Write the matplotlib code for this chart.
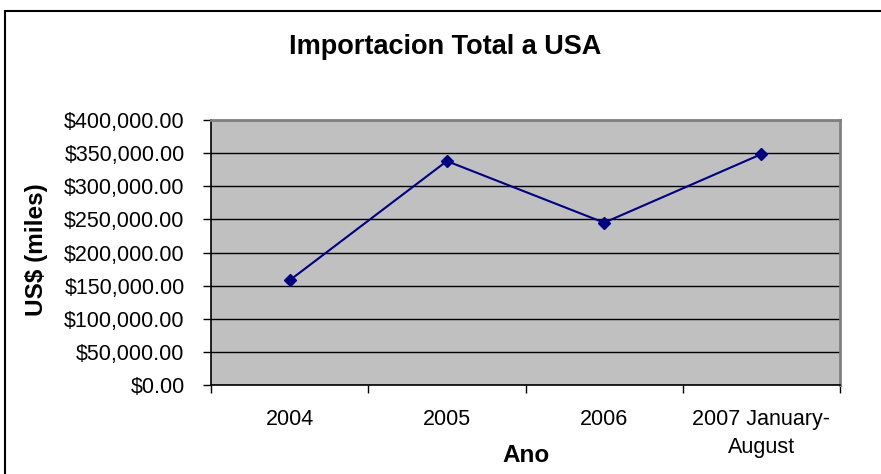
import matplotlib
matplotlib.use('Agg')
import matplotlib.pyplot as plt
from matplotlib.ticker import FuncFormatter, MultipleLocator
from matplotlib.patches import Rectangle

# import totals per year (thousands of US$)
years = ['2004', '2005', '2006', '2007 January-\nAugust']
totals = [158000, 338000, 245000, 348500]

plt.rcParams['font.family'] = ['Liberation Sans', 'DejaVu Sans']

fig = plt.figure(figsize=(8.81, 4.74), dpi=100)
fig.patch.set_facecolor('white')

# outer chart border
fig.patches.append(Rectangle((5 / 881, -0.2), 1.2, 1 - 11 / 474 + 0.2,
                             transform=fig.transFigure, fill=False,
                             edgecolor='black', linewidth=1.5, zorder=0))

ax = fig.add_axes([211 / 881, 1 - 385 / 474, 629 / 881, 265 / 474])
ax.set_facecolor('#c0c0c0')

x = range(len(years))
ax.plot(x, totals, color='#000080', linewidth=1.5, marker='D',
        markersize=6.5, zorder=3)

ax.set_xlim(-0.5, len(years) - 0.5)
ax.set_ylim(0, 400000)
ax.yaxis.set_major_locator(MultipleLocator(50000))
ax.yaxis.set_major_formatter(FuncFormatter(lambda v, p: '${:,.2f}'.format(v)))
ax.grid(axis='y', color='black', linewidth=1.0, zorder=1)
ax.set_axisbelow(True)

# category labels in the middle, tick marks on the boundaries
ax.set_xticks(list(x))
ax.set_xticklabels(years, linespacing=1.45)
ax.set_xticks([i - 0.5 for i in range(len(years) + 1)], minor=True)
ax.tick_params(axis='x', which='major', length=0, pad=17, labelsize=15.5)
ax.tick_params(axis='x', which='minor', length=6, width=1, direction='out')
ax.tick_params(axis='y', length=6, width=1, pad=13, labelsize=15.5)

for side in ['left', 'bottom']:
    ax.spines[side].set_color('black')
    ax.spines[side].set_linewidth(1.2)
for side in ['top', 'right']:
    ax.spines[side].set_color('#808080')
    ax.spines[side].set_linewidth(2)

fig.text(445 / 881, 1 - 47 / 474, 'Importacion Total a USA', ha='center',
         va='center', fontsize=19.5, fontweight='bold')
fig.text(526 / 881, 1 - 455 / 474, 'Ano', ha='center', va='center',
         fontsize=17.5, fontweight='bold')
fig.text(36 / 881, 1 - 250 / 474, 'US$ (miles)', ha='center', va='center',
         rotation=90, fontsize=17.5, fontweight='bold')

fig.savefig('out.png', dpi=100)
